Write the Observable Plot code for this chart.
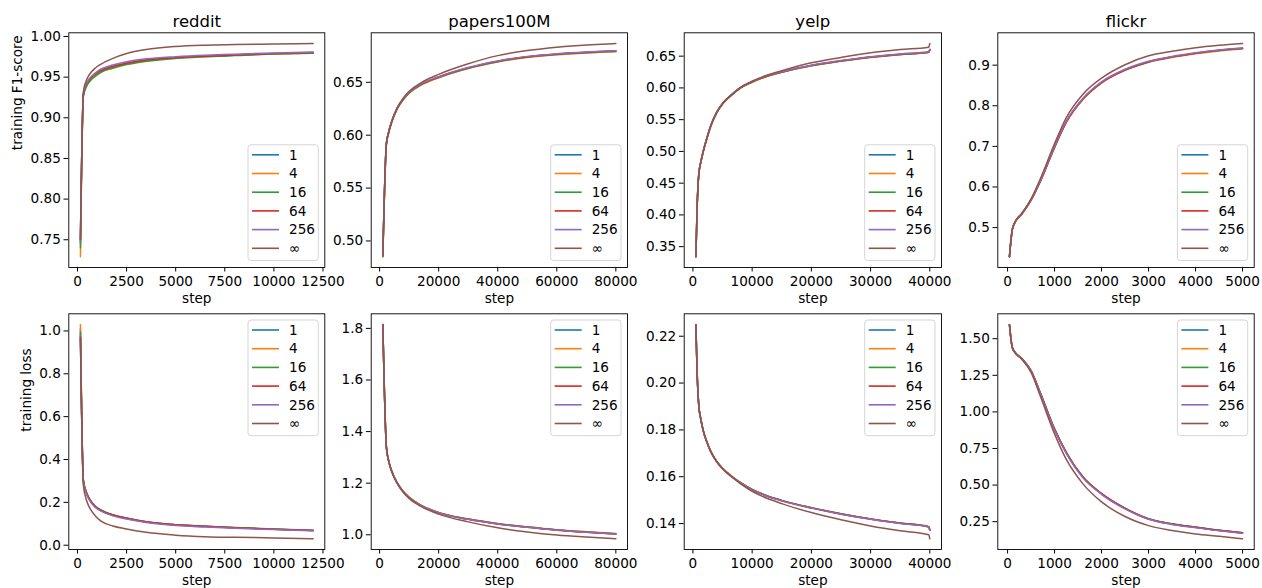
<!DOCTYPE html>
<html><head><meta charset="utf-8">
<script src="https://cdn.jsdelivr.net/npm/d3@7"></script>
<script src="https://cdn.jsdelivr.net/npm/@observablehq/plot@0.6"></script>
<style>
body{margin:0;background:#fff;}
#wrap{position:relative;width:1262px;height:588px;overflow:hidden;background:#fff;font-family:"DejaVu Sans",sans-serif;}
#wrap svg{position:absolute;}
</style></head><body><div id="wrap"></div>
<script>
// ---------- categories ----------
const seriesNames = ["1", "4", "16", "64", "256", "∞"];
const seriesColors = ["#1f77b4", "#ff7f0e", "#2ca02c", "#d62728", "#9467bd", "#8c564b"];
const datasetTitles = ["reddit", "papers100M", "yelp", "flickr"];
const rowLabels = ["training F1-score", "training loss"];
const xLabel = "step";

// ---------- tick labels ----------
const redditXTicks = ["0", "2500", "5000", "7500", "10000", "12500"];
const papersXTicks = ["0", "20000", "40000", "60000", "80000"];
const yelpXTicks = ["0", "10000", "20000", "30000", "40000"];
const flickrXTicks = ["0", "1000", "2000", "3000", "4000", "5000"];
const redditF1YTicks = ["0.75", "0.80", "0.85", "0.90", "0.95", "1.00"];
const redditLossYTicks = ["0.0", "0.2", "0.4", "0.6", "0.8", "1.0"];
const papersF1YTicks = ["0.50", "0.55", "0.60", "0.65"];
const papersLossYTicks = ["1.0", "1.2", "1.4", "1.6", "1.8"];
const yelpF1YTicks = ["0.35", "0.40", "0.45", "0.50", "0.55", "0.60", "0.65"];
const yelpLossYTicks = ["0.14", "0.16", "0.18", "0.20", "0.22"];
const flickrF1YTicks = ["0.5", "0.6", "0.7", "0.8", "0.9"];
const flickrLossYTicks = ["0.25", "0.50", "0.75", "1.00", "1.25", "1.50"];

// ---------- reddit ----------
const redditSteps = [150, 300, 450, 600, 900, 1200, 1800, 2500, 3500, 5000, 6500, 8000, 10000, 12000];
const redditF1S1   = [0.745, 0.928, 0.940, 0.946, 0.953, 0.958, 0.963, 0.967, 0.971, 0.974, 0.9758, 0.9770, 0.9788, 0.9800];
const redditF1S4   = [0.729, 0.927, 0.939, 0.945, 0.952, 0.957, 0.962, 0.966, 0.970, 0.9735, 0.9755, 0.9768, 0.9786, 0.9798];
const redditF1S16  = [0.740, 0.926, 0.938, 0.944, 0.951, 0.956, 0.961, 0.9655, 0.9695, 0.973, 0.975, 0.9765, 0.9783, 0.9795];
const redditF1S64  = [0.752, 0.929, 0.941, 0.947, 0.954, 0.958, 0.963, 0.967, 0.971, 0.974, 0.9758, 0.9772, 0.9790, 0.9802];
const redditF1S256 = [0.748, 0.930, 0.942, 0.948, 0.955, 0.960, 0.965, 0.969, 0.9725, 0.9752, 0.977, 0.9782, 0.9798, 0.9810];
const redditF1SInf = [0.750, 0.932, 0.946, 0.953, 0.961, 0.966, 0.973, 0.979, 0.984, 0.9877, 0.9893, 0.9900, 0.9907, 0.9914];
const redditLossS1   = [1.010, 0.300, 0.245, 0.215, 0.180, 0.162, 0.140, 0.125, 0.108, 0.094, 0.087, 0.081, 0.075, 0.069];
const redditLossS4   = [1.030, 0.302, 0.247, 0.217, 0.181, 0.163, 0.141, 0.126, 0.109, 0.095, 0.088, 0.082, 0.075, 0.069];
const redditLossS16  = [0.995, 0.305, 0.250, 0.219, 0.183, 0.165, 0.142, 0.127, 0.110, 0.096, 0.089, 0.083, 0.076, 0.070];
const redditLossS64  = [0.965, 0.301, 0.246, 0.216, 0.181, 0.163, 0.141, 0.126, 0.109, 0.095, 0.088, 0.082, 0.075, 0.069];
const redditLossS256 = [0.980, 0.296, 0.241, 0.211, 0.177, 0.159, 0.137, 0.122, 0.106, 0.092, 0.085, 0.079, 0.073, 0.067];
const redditLossSInf = [0.970, 0.280, 0.212, 0.178, 0.138, 0.112, 0.090, 0.076, 0.060, 0.047, 0.040, 0.037, 0.034, 0.030];

// ---------- papers100M ----------
const papersSteps = [1100, 2300, 3000, 4000, 6000, 8000, 10000, 14000, 20000, 30000, 40000, 50000, 60000, 70000, 80000];
const papersF1S1   = [0.486, 0.592, 0.602, 0.612, 0.6255, 0.634, 0.6402, 0.6478, 0.6548, 0.6635, 0.6697, 0.6740, 0.6765, 0.6782, 0.6793];
const papersF1S4   = [0.485, 0.591, 0.601, 0.611, 0.6250, 0.6335, 0.6397, 0.6473, 0.6543, 0.6630, 0.6692, 0.6735, 0.6761, 0.6778, 0.6790];
const papersF1S16  = [0.485, 0.5915, 0.6015, 0.6115, 0.6252, 0.6338, 0.6400, 0.6476, 0.6546, 0.6633, 0.6695, 0.6738, 0.6763, 0.6780, 0.6791];
const papersF1S64  = [0.486, 0.592, 0.602, 0.612, 0.6256, 0.6341, 0.6404, 0.6480, 0.6550, 0.6637, 0.6699, 0.6742, 0.6767, 0.6784, 0.6795];
const papersF1S256 = [0.486, 0.5925, 0.6025, 0.6125, 0.6260, 0.6345, 0.6407, 0.6483, 0.6553, 0.6640, 0.6702, 0.6745, 0.6770, 0.6787, 0.6798];
const papersF1SInf = [0.486, 0.592, 0.602, 0.612, 0.6262, 0.6350, 0.6415, 0.6495, 0.6575, 0.6675, 0.6752, 0.6800, 0.6832, 0.6852, 0.6867];
const papersLossS1   = [1.815, 1.340, 1.290, 1.250, 1.200, 1.168, 1.145, 1.114, 1.086, 1.061, 1.043, 1.030, 1.019, 1.011, 1.004];
const papersLossS4   = [1.815, 1.341, 1.291, 1.251, 1.201, 1.169, 1.146, 1.115, 1.087, 1.062, 1.044, 1.031, 1.020, 1.012, 1.005];
const papersLossS16  = [1.814, 1.340, 1.290, 1.250, 1.200, 1.168, 1.145, 1.114, 1.086, 1.061, 1.043, 1.030, 1.019, 1.011, 1.004];
const papersLossS64  = [1.813, 1.339, 1.289, 1.249, 1.199, 1.167, 1.144, 1.113, 1.085, 1.060, 1.042, 1.029, 1.018, 1.010, 1.003];
const papersLossS256 = [1.815, 1.339, 1.289, 1.249, 1.199, 1.167, 1.144, 1.113, 1.085, 1.060, 1.042, 1.029, 1.018, 1.010, 1.003];
const papersLossSInf = [1.815, 1.340, 1.290, 1.249, 1.198, 1.165, 1.141, 1.110, 1.080, 1.050, 1.027, 1.011, 0.999, 0.991, 0.9845];

// ---------- yelp ----------
const yelpSteps = [500, 700, 850, 1000, 1300, 1700, 2400, 3000, 4000, 5000, 6600, 8000, 10000, 12500, 15000, 20000, 25000, 30000, 35000, 39800, 40000];
const yelpF1S1   = [0.334, 0.410, 0.445, 0.465, 0.482, 0.4985, 0.522, 0.540, 0.561, 0.575, 0.5895, 0.600, 0.6095, 0.6185, 0.625, 0.6353, 0.6425, 0.6485, 0.6528, 0.6563, 0.660];
const yelpF1S4   = [0.335, 0.409, 0.444, 0.464, 0.481, 0.4978, 0.5213, 0.5393, 0.5603, 0.5745, 0.5890, 0.5995, 0.6090, 0.6180, 0.6245, 0.6348, 0.6420, 0.6480, 0.6524, 0.6558, 0.659];
const yelpF1S16  = [0.334, 0.410, 0.445, 0.465, 0.4815, 0.4982, 0.5217, 0.5397, 0.5607, 0.5748, 0.5893, 0.5998, 0.6093, 0.6183, 0.6248, 0.6350, 0.6422, 0.6483, 0.6526, 0.6560, 0.6595];
const yelpF1S64  = [0.334, 0.4105, 0.4455, 0.4655, 0.482, 0.4987, 0.5222, 0.5402, 0.5612, 0.5752, 0.5897, 0.6002, 0.6097, 0.6188, 0.6252, 0.6355, 0.6427, 0.6487, 0.6531, 0.6565, 0.6605];
const yelpF1S256 = [0.3345, 0.411, 0.446, 0.466, 0.4825, 0.4992, 0.5227, 0.5407, 0.5617, 0.5757, 0.5902, 0.6006, 0.6101, 0.6191, 0.6256, 0.6358, 0.6430, 0.6490, 0.6534, 0.6568, 0.661];
const yelpF1SInf = [0.334, 0.410, 0.445, 0.465, 0.482, 0.4985, 0.522, 0.540, 0.5615, 0.5755, 0.590, 0.6008, 0.6105, 0.620, 0.627, 0.6395, 0.648, 0.6554, 0.6605, 0.6642, 0.670];
const yelpLossS1   = [0.2249, 0.2050, 0.1960, 0.1900, 0.1850, 0.1800, 0.1745, 0.1708, 0.1665, 0.1635, 0.1600, 0.1575, 0.1545, 0.1518, 0.1498, 0.1467, 0.1441, 0.1419, 0.1401, 0.1386, 0.1372];
const yelpLossS4   = [0.2250, 0.2052, 0.1962, 0.1902, 0.1852, 0.1802, 0.1747, 0.1709, 0.1666, 0.1636, 0.1601, 0.1576, 0.1546, 0.1519, 0.1499, 0.1468, 0.1442, 0.1420, 0.1402, 0.1387, 0.1373];
const yelpLossS16  = [0.2248, 0.2051, 0.1961, 0.1901, 0.1851, 0.1801, 0.1746, 0.1709, 0.1666, 0.1636, 0.1601, 0.1576, 0.1546, 0.1519, 0.1499, 0.1468, 0.1442, 0.1420, 0.1402, 0.1387, 0.1374];
const yelpLossS64  = [0.2249, 0.2050, 0.1960, 0.1900, 0.1850, 0.1800, 0.1745, 0.1708, 0.1665, 0.1635, 0.1600, 0.1575, 0.1545, 0.1518, 0.1498, 0.1467, 0.1441, 0.1419, 0.1401, 0.1386, 0.1372];
const yelpLossS256 = [0.2248, 0.2049, 0.1959, 0.1899, 0.1849, 0.1799, 0.1744, 0.1707, 0.1664, 0.1634, 0.1599, 0.1574, 0.1544, 0.1517, 0.1497, 0.1466, 0.1440, 0.1418, 0.1400, 0.1385, 0.1371];
const yelpLossSInf = [0.2249, 0.2050, 0.1960, 0.1900, 0.1850, 0.1800, 0.1745, 0.1708, 0.1665, 0.1634, 0.1598, 0.1571, 0.1538, 0.1508, 0.1485, 0.1447, 0.1416, 0.1390, 0.1369, 0.1352, 0.1335];

// ---------- flickr ----------
const flickrSteps = [40, 100, 150, 300, 500, 700, 1000, 1250, 1600, 2000, 2500, 3000, 3500, 4000, 4500, 5000];
const flickrF1S1   = [0.4285, 0.495, 0.511, 0.533, 0.568, 0.615, 0.698, 0.760, 0.816, 0.857, 0.888, 0.908, 0.920, 0.929, 0.936, 0.941];
const flickrF1S4   = [0.429, 0.494, 0.510, 0.532, 0.567, 0.614, 0.697, 0.759, 0.815, 0.856, 0.887, 0.907, 0.919, 0.928, 0.935, 0.9405];
const flickrF1S16  = [0.428, 0.495, 0.511, 0.533, 0.568, 0.615, 0.698, 0.760, 0.816, 0.857, 0.888, 0.908, 0.920, 0.929, 0.936, 0.941];
const flickrF1S64  = [0.4285, 0.4955, 0.5115, 0.5335, 0.5685, 0.6155, 0.6985, 0.7605, 0.8165, 0.8575, 0.8885, 0.9085, 0.9205, 0.9295, 0.9365, 0.9415];
const flickrF1S256 = [0.429, 0.496, 0.512, 0.534, 0.569, 0.616, 0.700, 0.762, 0.818, 0.859, 0.890, 0.9095, 0.9215, 0.9305, 0.9375, 0.9425];
const flickrF1SInf = [0.4285, 0.495, 0.512, 0.535, 0.571, 0.621, 0.707, 0.771, 0.828, 0.868, 0.901, 0.923, 0.934, 0.943, 0.949, 0.9534];
const flickrLossS1   = [1.596, 1.440, 1.410, 1.365, 1.280, 1.125, 0.880, 0.720, 0.555, 0.440, 0.340, 0.268, 0.233, 0.211, 0.190, 0.173];
const flickrLossS4   = [1.595, 1.441, 1.411, 1.366, 1.281, 1.127, 0.882, 0.722, 0.557, 0.441, 0.341, 0.269, 0.234, 0.212, 0.191, 0.174];
const flickrLossS16  = [1.597, 1.441, 1.411, 1.366, 1.282, 1.128, 0.884, 0.724, 0.558, 0.442, 0.342, 0.270, 0.235, 0.213, 0.192, 0.175];
const flickrLossS64  = [1.596, 1.440, 1.410, 1.365, 1.281, 1.126, 0.882, 0.722, 0.556, 0.441, 0.341, 0.269, 0.234, 0.212, 0.191, 0.174];
const flickrLossS256 = [1.594, 1.438, 1.408, 1.363, 1.278, 1.122, 0.876, 0.716, 0.551, 0.437, 0.337, 0.266, 0.231, 0.209, 0.188, 0.171];
const flickrLossSInf = [1.596, 1.440, 1.408, 1.360, 1.270, 1.105, 0.850, 0.675, 0.510, 0.385, 0.285, 0.223, 0.190, 0.166, 0.150, 0.133];

// ---------- panel definitions ----------
const panels = [
  {row: 0, col: 0, steps: redditSteps, series: [redditF1S1, redditF1S4, redditF1S16, redditF1S64, redditF1S256, redditF1SInf], xt: redditXTicks, yt: redditF1YTicks},
  {row: 0, col: 1, steps: papersSteps, series: [papersF1S1, papersF1S4, papersF1S16, papersF1S64, papersF1S256, papersF1SInf], xt: papersXTicks, yt: papersF1YTicks},
  {row: 0, col: 2, steps: yelpSteps, series: [yelpF1S1, yelpF1S4, yelpF1S16, yelpF1S64, yelpF1S256, yelpF1SInf], xt: yelpXTicks, yt: yelpF1YTicks},
  {row: 0, col: 3, steps: flickrSteps, series: [flickrF1S1, flickrF1S4, flickrF1S16, flickrF1S64, flickrF1S256, flickrF1SInf], xt: flickrXTicks, yt: flickrF1YTicks},
  {row: 1, col: 0, steps: redditSteps, series: [redditLossS1, redditLossS4, redditLossS16, redditLossS64, redditLossS256, redditLossSInf], xt: redditXTicks, yt: redditLossYTicks},
  {row: 1, col: 1, steps: papersSteps, series: [papersLossS1, papersLossS4, papersLossS16, papersLossS64, papersLossS256, papersLossSInf], xt: papersXTicks, yt: papersLossYTicks},
  {row: 1, col: 2, steps: yelpSteps, series: [yelpLossS1, yelpLossS4, yelpLossS16, yelpLossS64, yelpLossS256, yelpLossSInf], xt: yelpXTicks, yt: yelpLossYTicks},
  {row: 1, col: 3, steps: flickrSteps, series: [flickrLossS1, flickrLossS4, flickrLossS16, flickrLossS64, flickrLossS256, flickrLossSInf], xt: flickrXTicks, yt: flickrLossYTicks}
];

// ---------- layout ----------
const frameLefts = [68.3, 370.7, 683.7, 997.3];
const frameRights = [324.3, 627.0, 941.0, 1253.7];
const frameTops = [32.3, 313.3];
const frameBottoms = [267.0, 549.0];
const yLabelDx = [-51.1, -42.0];
const FONT = "DejaVu Sans";
const TICK_FS = 13.6;

function pad(ext) { const r = ext[1] - ext[0]; return [ext[0] - 0.05 * r, ext[1] + 0.05 * r]; }

const wrap = document.getElementById("wrap");

for (const p of panels) {
  const L = frameLefts[p.col], R = frameRights[p.col], T = frameTops[p.row], B = frameBottoms[p.row];
  const svgLeft = Math.floor(L) - 62, svgTop = Math.floor(T) - 32;
  const width = Math.ceil(R) + 14 - svgLeft, height = Math.ceil(B) + 42 - svgTop;
  const mL = L - svgLeft, mT = T - svgTop, mR = width - (R - svgLeft), mB = height - (B - svgTop);

  const rows = [];
  p.series.forEach((vals, i) => vals.forEach((v, j) => rows.push({step: p.steps[j], value: v, series: seriesNames[i]})));
  const xDom = pad(d3.extent(p.steps));
  const yDom = pad(d3.extent(rows, d => d.value));
  const xt = p.xt.map(Number), yt = p.yt.map(Number);

  const marks = [
    Plot.axisX({ticks: xt, tickSize: 4.5, tickPadding: 4.2, tickFormat: d => p.xt[xt.indexOf(d)], label: null, fontSize: TICK_FS}),
    Plot.axisY({ticks: yt, tickSize: 4.8, tickPadding: 3.2, tickFormat: d => p.yt[yt.indexOf(d)], label: null, fontSize: TICK_FS}),
    ...seriesNames.map(s => Plot.line(rows.filter(d => d.series === s), {x: "step", y: "value", stroke: "series", strokeWidth: 1.5, curve: "monotone-x"})),
    Plot.frame({stroke: "black", strokeWidth: 0.9}),
    Plot.text([xLabel], {text: d => d, frameAnchor: "bottom", dy: 35.5, lineAnchor: "bottom", fontSize: TICK_FS}),
  ];
  if (p.row === 0) marks.push(Plot.text([datasetTitles[p.col]], {text: d => d, frameAnchor: "top", dy: -6.3, lineAnchor: "bottom", fontSize: 16.5}));
  if (p.col === 0) marks.push(Plot.text([rowLabels[p.row]], {text: d => d, frameAnchor: "left", dx: yLabelDx[p.row], rotate: -90, lineAnchor: "middle", fontSize: TICK_FS}));

  const svg = Plot.plot({
    width, height, marginLeft: mL, marginRight: mR, marginTop: mT, marginBottom: mB,
    x: {domain: xDom},
    y: {domain: yDom},
    color: {domain: seriesNames, range: seriesColors},
    style: {fontFamily: FONT, fontSize: TICK_FS + "px", background: "transparent", overflow: "visible", maxWidth: "none", color: "black"},
    marks
  });
  svg.style.left = svgLeft + "px";
  svg.style.top = svgTop + "px";
  svg.style.position = "absolute";

  // legend (matplotlib-style box with line swatches)
  const boxW = 70.3, boxH = 115.7;
  const bx = (R - svgLeft) - 6 - boxW;
  const by = p.row === 0 ? (B - svgTop) - 6.5 - boxH : (T - svgTop) + 6.7;
  const g = d3.select(svg).append("g").attr("font-family", FONT).attr("font-size", TICK_FS).attr("text-anchor", "start");
  g.append("rect").attr("x", bx).attr("y", by).attr("width", boxW).attr("height", boxH)
    .attr("rx", 3).attr("fill", "white").attr("fill-opacity", 0.8).attr("stroke", "#d5d5d5").attr("stroke-width", 1);
  seriesNames.forEach((s, i) => {
    const yy = by + 10 + i * 18.7;
    g.append("line").attr("x1", bx + 4).attr("x2", bx + 31).attr("y1", yy).attr("y2", yy)
      .attr("stroke", seriesColors[i]).attr("stroke-width", 1.6);
    g.append("text").attr("x", bx + 41).attr("y", yy).attr("dy", "0.35em").attr("text-anchor", "start").attr("fill", "black").text(s);
  });

  wrap.appendChild(svg);
}
</script>
</body></html>
